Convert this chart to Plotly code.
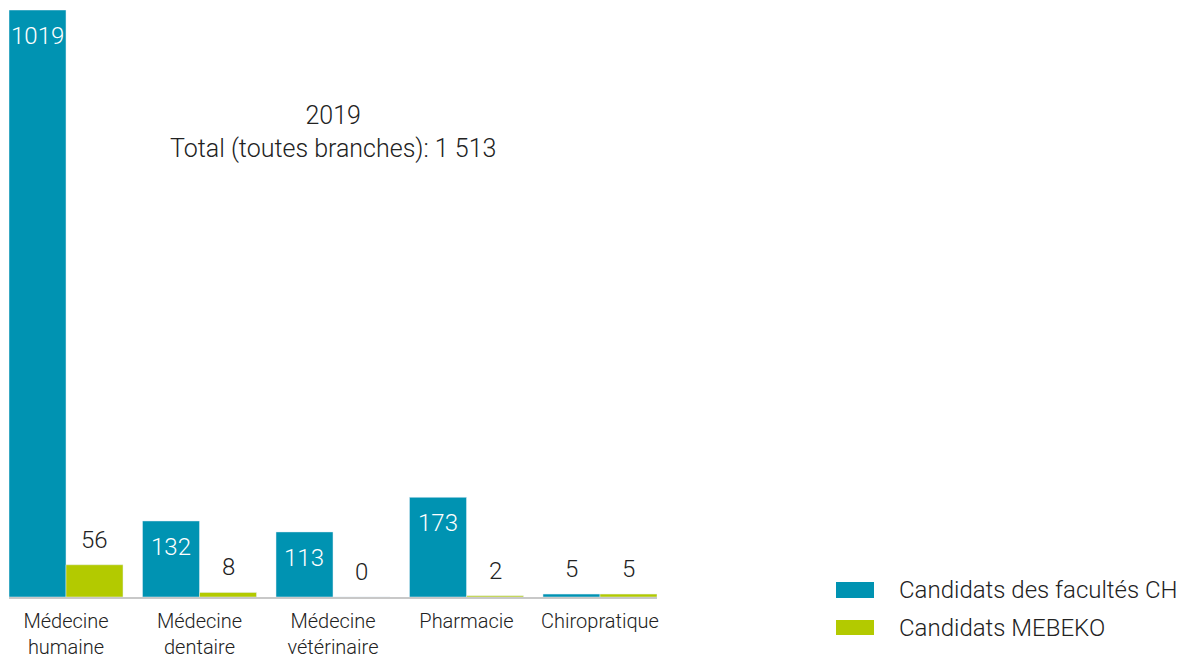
import plotly.graph_objects as go

categories = ["Médecine<br>humaine", "Médecine<br>dentaire", "Médecine<br>vétérinaire", "Pharmacie", "Chiropratique"]
series_names = ["Candidats des facultés CH", "Candidats MEBEKO"]
ch_values = [1019, 132, 113, 173, 5]
mebeko_values = [56, 8, 0, 2, 5]
annotation_text = "2019<br>Total (toutes branches): 1 513"

teal = "#0093B2"
green = "#B3CA00"
dark = "#222222"
FONT = "Roboto"

# page body has an 8px margin; compensate so screen positions match
OFF = 8
W, H = 1192, 658
plot_left, plot_right, plot_top, plot_bottom = 9, 657, 10, 597  # screen px
L = plot_left - OFF
T = plot_top - OFF
R = W - (plot_right - OFF)
B = H - (plot_bottom - OFF)
pw = plot_right - plot_left
ph = plot_bottom - plot_top

def px_x(x):
    return (x - plot_left) / pw

def px_y(y):
    return (plot_bottom - y) / ph

bargap = 0.146
x_range = [-0.5 + bargap / 2, 4.5 - bargap / 2]
y_range = [0, 1019]
px_per_cat = pw / (x_range[1] - x_range[0])
bar_offset_px = (1 - bargap) / 4 * px_per_cat
px_per_unit = ph / (y_range[1] - y_range[0])

fig = go.Figure()
fig.add_trace(go.Bar(x=categories, y=ch_values, name=series_names[0],
                     marker_color=teal, showlegend=False))
fig.add_trace(go.Bar(x=categories, y=mebeko_values, name=series_names[1],
                     marker_color=green, showlegend=False))

# value labels (inside top for tall bars, above for short ones)
for values, shift in ((ch_values, -bar_offset_px), (mebeko_values, bar_offset_px)):
    for cat, v in zip(categories, values):
        inside = v * px_per_unit > 60
        fig.add_annotation(
            x=cat, y=v, xref="x", yref="y", text=str(v), showarrow=False,
            xshift=shift, yshift=(-26 if inside else 25),
            xanchor="center", yanchor="middle",
            font=dict(size=24, family=FONT, weight=300,
                      color="white" if inside else dark),
        )

fig.update_layout(
    width=W, height=H,
    margin=dict(l=L, r=R, t=T, b=B, pad=0),
    barmode="group", bargap=bargap, bargroupgap=0,
    plot_bgcolor="white", paper_bgcolor="white",
    font=dict(family=FONT, color=dark, weight=300),
)
fig.update_xaxes(
    range=x_range,
    showline=True, linecolor="#C8C8C8", linewidth=2,
    ticks="", showgrid=False, ticklabelstandoff=5,
    tickfont=dict(size=20, family=FONT, color=dark, weight=300),
)
fig.update_yaxes(range=y_range, visible=False, showgrid=False)

fig.add_annotation(
    x=px_x(333), y=px_y(132), xref="paper", yref="paper",
    xanchor="center", yanchor="middle",
    text=annotation_text, showarrow=False, align="center",
    font=dict(size=25, family=FONT, color=dark, weight=300),
)

swatches = [(582, 598, teal), (620, 635, green)]
for (y0, y1, col), name in zip(swatches, series_names):
    fig.add_shape(type="rect", xref="paper", yref="paper",
                  x0=px_x(836), x1=px_x(874), y0=px_y(y1), y1=px_y(y0),
                  fillcolor=col, line_width=0)
    fig.add_annotation(x=px_x(897), y=px_y((y0 + y1) / 2), xref="paper", yref="paper",
                       text=name, showarrow=False, xanchor="left", yanchor="middle",
                       font=dict(size=24, family=FONT, color=dark, weight=300))

fig.write_html("out.html")
